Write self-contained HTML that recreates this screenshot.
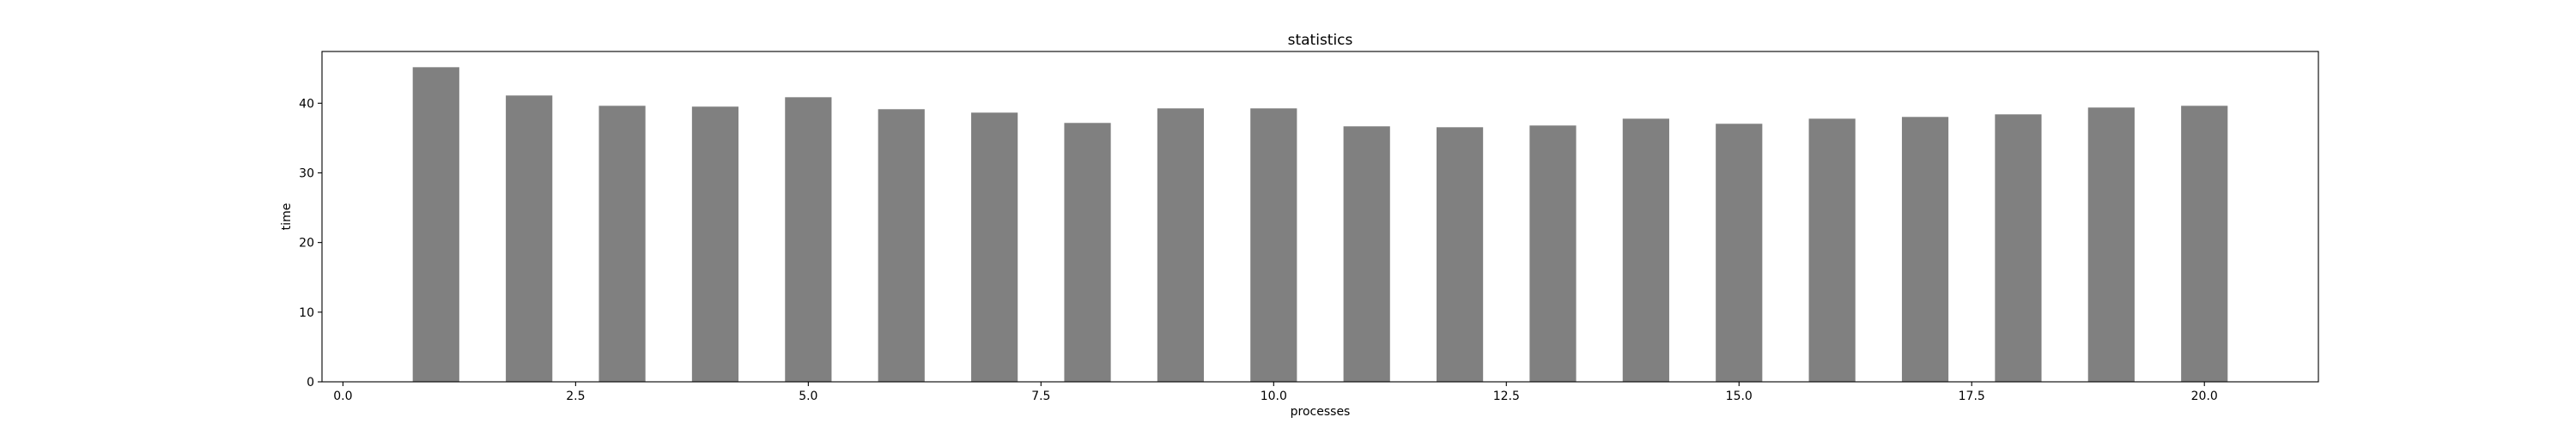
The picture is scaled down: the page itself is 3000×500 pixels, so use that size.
<!DOCTYPE html>
<html><head><meta charset="utf-8"><style>
html,body{margin:0;padding:0;background:#fff;}
svg{display:block;font-family:"DejaVu Sans","Liberation Sans",sans-serif;}
</style></head><body>
<svg id="chart" width="3000" height="500" xmlns="http://www.w3.org/2000/svg"></svg>
<script>
const categories = [1,2,3,4,5,6,7,8,9,10,11,12,13,14,15,16,17,18,19,20];
const times = [45.17,41.11,39.63,39.51,40.86,39.14,38.65,37.17,39.26,39.26,36.68,36.55,36.8,37.78,37.05,37.78,38.03,38.4,39.38,39.63];
const xTicks = [0,2.5,5,7.5,10,12.5,15,17.5,20];
const xTickLabels = ["0.0","2.5","5.0","7.5","10.0","12.5","15.0","17.5","20.0"];
const yTicks = [0,10,20,30,40];
const yTickLabels = ["0","10","20","30","40"];

const NS="http://www.w3.org/2000/svg";
const svg=document.getElementById('chart');
const L=375,R=2700,T=60,B=445;
const barW=0.5;
const xmin=0.75-0.975, xmax=20.25+0.975;
const ymax=Math.max(...times)*1.05;
const xs=v=>L+(v-xmin)/(xmax-xmin)*(R-L);
const ys=v=>B-v/ymax*(B-T);
function mk(tag,attrs,parent){const e=document.createElementNS(NS,tag);for(const k in attrs)e.setAttribute(k,attrs[k]);(parent||svg).appendChild(e);return e;}

const bars=mk('g',{});


categories.forEach((c,i)=>{
  const x0=xs(c-barW/2),x1=xs(c+barW/2);
  const r=mk('rect',{x:x0,y:ys(times[i]),width:x1-x0,height:B-ys(times[i]),fill:'#808080'},bars);
  
  
});

const frame=mk('rect',{x:L,y:T,width:R-L,height:B-T,fill:'none',stroke:'#000','stroke-width':1.1});



const xa=mk('g',{});


xTicks.forEach((t,i)=>{
  const x=xs(t);
  mk('line',{x1:x,x2:x,y1:B,y2:B+5,stroke:'#000','stroke-width':1.1},xa);
  const tx=mk('text',{x:x,y:B+21,'font-size':14,'text-anchor':'middle',fill:'#000'},xa);
  tx.textContent=xTickLabels[i];
  
  
});
const ya=mk('g',{});


yTicks.forEach((t,i)=>{
  const y=ys(t);
  mk('line',{x1:L-5,x2:L,y1:y,y2:y,stroke:'#000','stroke-width':1.1},ya);
  const tx=mk('text',{x:L-9,y:y+5,'font-size':14,'text-anchor':'end',fill:'#000'},ya);
  tx.textContent=yTickLabels[i];
  
  
});

const xl=mk('text',{x:(L+R)/2,y:484,'font-size':14,'text-anchor':'middle',fill:'#000'});
xl.textContent='processes';


const yl=mk('text',{x:0,y:0,'font-size':14,'text-anchor':'middle',fill:'#000',transform:`translate(338,${(T+B)/2}) rotate(-90)`});
yl.textContent='time';


const tt=mk('text',{x:(L+R)/2,y:52,'font-size':17,'text-anchor':'middle',fill:'#000'});
tt.textContent='statistics';


</script>
</body></html>
